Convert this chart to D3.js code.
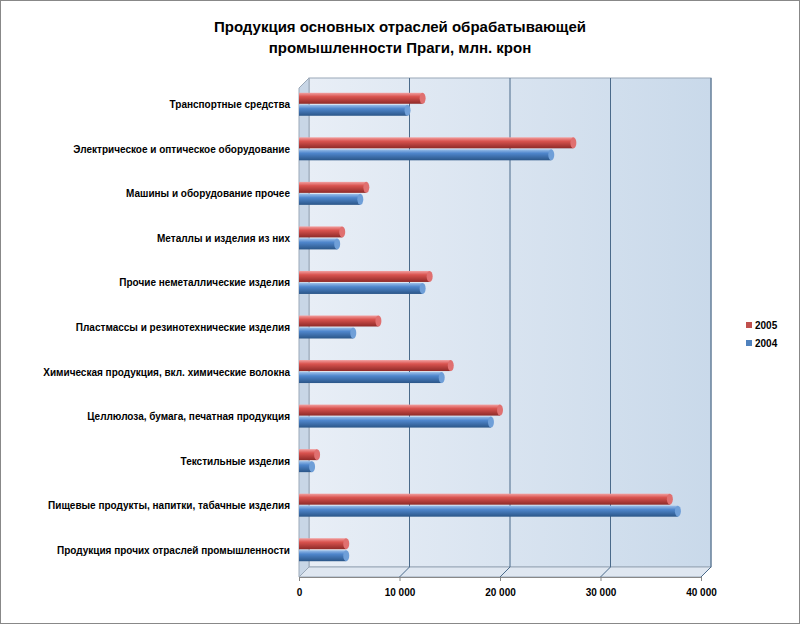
<!DOCTYPE html>
<meta charset="utf-8">
<script src="https://d3js.org/d3.v7.min.js"></script>
<style>body{margin:0;background:#fff}text{font-family:Arial,"Liberation Sans",sans-serif}</style>
<div id="chart"></div>
<script>
// categories top to bottom
var categories = ["Транспортные средства","Электрическое и оптическое оборудование","Машины и оборудование прочее","Металлы и изделия из них","Прочие неметаллические изделия","Пластмассы и резинотехнические изделия","Химическая продукция, вкл. химические волокна","Целлюлоза, бумага, печатная продукция","Текстильные изделия","Пищевые продукты, напитки, табачные изделия","Продукция прочих отраслей промышленности"];
var v2005 = [12300,27300,6700,4300,13000,7900,15100,20000,1800,36900,4700];
var v2004 = [10800,25100,6100,3800,12300,5400,14200,19100,1300,37700,4700];
var ticks = [0,10000,20000,30000,40000];

var svg = d3.select("#chart").append("svg").attr("width",800).attr("height",624);
svg.append("rect").attr("x",0.5).attr("y",0.5).attr("width",799).attr("height",623).attr("fill","#fff").attr("stroke","#888");

svg.append("text").attr("x",400).attr("y",32).attr("text-anchor","middle").attr("font-size",15).attr("font-weight","bold").text("Продукция основных отраслей обрабатывающей");
svg.append("text").attr("x",400).attr("y",53).attr("text-anchor","middle").attr("font-size",15).attr("font-weight","bold").text("промышленности Праги, млн. крон");

var x = d3.scaleLinear().domain([0,40000]).range([299,701]);
var y = d3.scaleBand().domain(categories).range([82,572]);
var dx = 10, dy = -10, wallTop = 78, wallBottom = 577;

var defs = svg.append("defs");
var wg = defs.append("linearGradient").attr("id","wall").attr("x1",0).attr("y1",0).attr("x2",1).attr("y2",0);
wg.append("stop").attr("offset","0").attr("stop-color","#e8eef6");
wg.append("stop").attr("offset","1").attr("stop-color","#c9d9ea");
function grad(id,c1,c2,c3){var g=defs.append("linearGradient").attr("id",id).attr("x1",0).attr("y1",0).attr("x2",0).attr("y2",1);
  g.append("stop").attr("offset","0").attr("stop-color",c1);g.append("stop").attr("offset","0.35").attr("stop-color",c2);g.append("stop").attr("offset","1").attr("stop-color",c3);}
grad("red","#f2a0a0","#d9534f","#8e2a28");
grad("blue","#9cc0ea","#4f86cc","#2b5688");

// back wall
svg.append("rect").attr("x",x(0)+dx).attr("y",wallTop).attr("width",x(40000)-x(0)).attr("height",wallBottom+dy-wallTop)
  .attr("fill","url(#wall)").attr("stroke","#9aa8b8");
// left wall
svg.append("path").attr("d","M"+x(0)+","+(wallTop-dy)+"L"+(x(0)+dx)+","+wallTop+"L"+(x(0)+dx)+","+(wallBottom+dy)+"L"+x(0)+","+wallBottom+"Z")
  .attr("fill","#c8d6e6").attr("stroke","#9aa8b8");
// floor
svg.append("path").attr("d","M"+x(0)+","+wallBottom+"L"+(x(0)+dx)+","+(wallBottom+dy)+"L"+(x(40000)+dx)+","+(wallBottom+dy)+"L"+x(40000)+","+wallBottom+"Z")
  .attr("fill","#dfe7f1").attr("stroke","#9aa8b8");
// gridlines
svg.selectAll(".grid").data(ticks.slice(1)).enter().append("path")
  .attr("d",function(d){return "M"+x(d)+","+wallBottom+"L"+(x(d)+dx)+","+(wallBottom+dy)+"L"+(x(d)+dx)+","+wallTop;})
  .attr("fill","none").attr("stroke","#4a6a8a");

// axis
var ax = svg.append("g").attr("transform","translate(0,"+wallBottom+")").call(d3.axisBottom(x).tickValues(ticks).tickSize(4)
  .tickFormat(function(d){return d3.format(",")(d).replace(",","\u00a0");}));
ax.select(".domain").attr("stroke","#888");
ax.selectAll("line").attr("stroke","#888");
ax.selectAll("text").attr("font-size",10).attr("font-weight","bold").attr("fill","#000").attr("dy","1.2em");

// category labels
svg.selectAll(".cat").data(categories).enter().append("text")
  .attr("x",290).attr("y",function(d){return y(d)+y.bandwidth()/2+4;}).attr("text-anchor","end")
  .attr("font-size",10).attr("font-weight","bold").text(function(d){return d;});

function bars(vals,off,fill,capc){
  var g = svg.append("g");
  var h = 11;
  vals.forEach(function(v,i){
    var cy = y(categories[i])+y.bandwidth()/2+off;
    g.append("rect").attr("x",x(0)).attr("y",cy-h/2).attr("width",x(v)-x(0)).attr("height",h).attr("fill",fill);
    g.append("ellipse").attr("cx",x(v)).attr("cy",cy).attr("rx",3).attr("ry",h/2).attr("fill",capc);
  });
}
bars(v2005,-6,"url(#red)","#e07070");
bars(v2004,6,"url(#blue)","#6f9fd8");

// legend
var lg = svg.append("g").attr("transform","translate(746,322)");
[["2005","#c0504d"],["2004","#4f81bd"]].forEach(function(d,i){
  lg.append("rect").attr("x",0).attr("y",i*18).attr("width",6).attr("height",6).attr("fill",d[1]);
  lg.append("text").attr("x",9).attr("y",i*18+7).attr("font-size",10).attr("font-weight","bold").text(d[0]);
});
</script>
